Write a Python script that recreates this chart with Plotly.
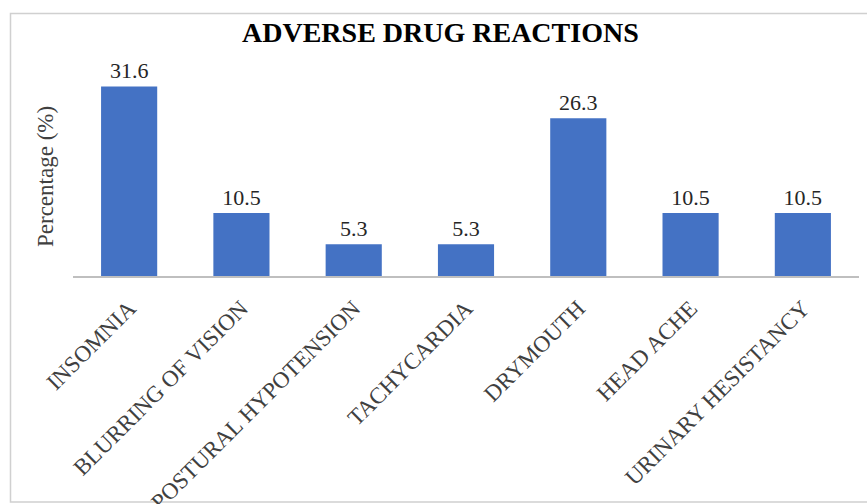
import plotly.graph_objects as go

categories = ["INSOMNIA", "BLURRING OF VISION", "POSTURAL HYPOTENSION", "TACHYCARDIA",
              "DRYMOUTH", "HEAD ACHE", "URINARY HESISTANCY"]
percentages = [31.6, 10.5, 5.3, 5.3, 26.3, 10.5, 10.5]

W, H = 867, 504
L, R, T, B = 73, 8, 60, 228
plot_w = W - L - R
plot_h = H - T - B

def px_to_paper_x(px):
    return (px - L) / plot_w

def px_to_paper_y(py):
    return (H - B - py) / plot_h

serif = "Liberation Serif, Times New Roman, serif"

fig = go.Figure(go.Bar(
    x=categories,
    y=percentages,
    marker=dict(color="#4472C4", line=dict(width=0)),
    text=[f"{v:.1f}" for v in percentages],
    textposition="outside",
    textfont=dict(family=serif, size=22, color="#262626"),
    cliponaxis=False,
))

fig.update_layout(
    width=W, height=H,
    margin=dict(l=L, r=R, t=T, b=B, autoexpand=False),
    paper_bgcolor="white", plot_bgcolor="white",
    bargap=0.5,
    showlegend=False,
    xaxis=dict(
        tickangle=-45,
        tickfont=dict(family=serif, size=23, color="#404040"),
        ticklabelstandoff=8,
        automargin=False,
        showline=True, linecolor="#BFBFBF", linewidth=1.5,
        ticks="", showgrid=False,
    ),
    yaxis=dict(
        range=[0, 36], showticklabels=False, showgrid=False,
        zeroline=False, showline=False, ticks="", automargin=False,
    ),
    shapes=[dict(
        type="rect", xref="paper", yref="paper",
        x0=px_to_paper_x(10.5), x1=px_to_paper_x(880),
        y0=px_to_paper_y(502), y1=px_to_paper_y(13.5),
        line=dict(color="#D0D0D0", width=1.5), fillcolor="rgba(0,0,0,0)",
        layer="below",
    )],
    annotations=[
        dict(text="<b>ADVERSE DRUG REACTIONS</b>", xref="paper", yref="paper",
             x=px_to_paper_x(440), y=px_to_paper_y(32), showarrow=False,
             xanchor="center", yanchor="middle",
             font=dict(family=serif, size=28, color="#000000")),
        dict(text="Percentage (%)", xref="paper", yref="paper",
             x=px_to_paper_x(45), y=px_to_paper_y(177), showarrow=False,
             textangle=-90, xanchor="center", yanchor="middle",
             font=dict(family=serif, size=23, color="#404040")),
    ],
)

fig.write_html("out.html")
